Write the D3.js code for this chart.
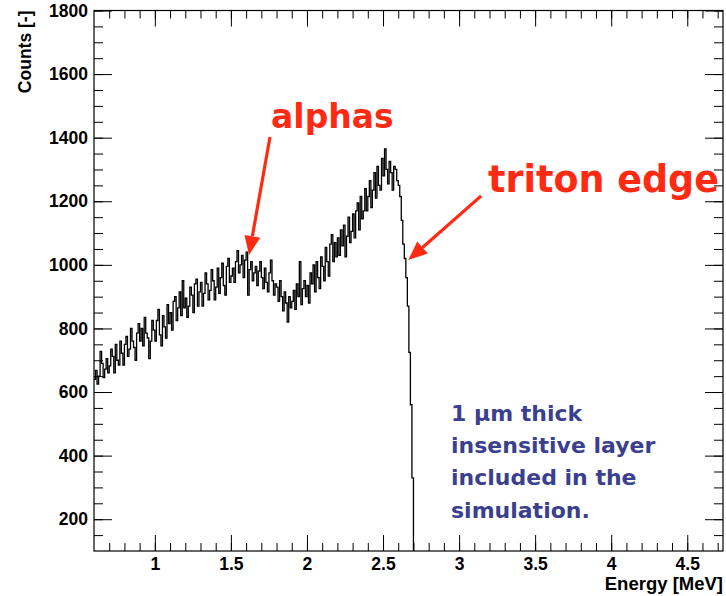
<!DOCTYPE html>
<html>
<head>
<meta charset="utf-8">
<script src="https://cdn.jsdelivr.net/npm/d3@7"></script>
<style>
  html, body { margin: 0; padding: 0; background: #fff; }
  svg { display: block; }
</style>
</head>
<body>
<svg id="chart" width="726" height="596"></svg>
<script>
// Histogram binning (MeV): bins of 0.01 starting at 0.60
const binStart = 0.60;
const binWidth = 0.01;

// Counts per bin, one row per 0.1 MeV
const counts = [
  640, 668, 625, 650, 728, 690, 645, 672, 705, 660,          // 0.60
  682, 735, 712, 660, 750, 700, 685, 760, 722, 685,          // 0.70
  750, 775, 712, 735, 800, 760, 740, 700, 785, 815,          // 0.80
  760, 800, 745, 835, 785, 770, 705, 760, 825, 795,          // 0.90
  760, 825, 860, 780, 745, 840, 805, 770, 875, 815,          // 1.00
  850, 795, 885, 900, 825, 865, 915, 840, 950, 865,          // 1.10
  895, 835, 870, 930, 905, 850, 940, 955, 870, 915,          // 1.20
  945, 870, 910, 975, 940, 890, 920, 985, 950, 890,          // 1.30
  930, 990, 910, 960, 1005, 935, 905, 995, 1020, 945,        // 1.40
  965, 990, 945, 1010, 1045, 975, 1000, 1030, 960, 1015,     // 1.50
  1040, 905, 985, 1010, 950, 975, 995, 935, 980, 1010,       // 1.60
  960, 925, 990, 945, 915, 975, 1015, 950, 905, 940,         // 1.70
  930, 885, 950, 900, 855, 915, 880, 820, 900, 865,          // 1.80
  885, 920, 860, 940, 900, 1010, 875, 925, 950, 900,         // 1.90
  935, 880, 975, 940, 1000, 915, 1010, 960, 925, 1025,       // 2.00
  995, 950, 1055, 1010, 965, 1065, 1095, 1010, 1070, 1025,   // 2.10
  1085, 1030, 1110, 1060, 1125, 1025, 1090, 1150, 1070, 1105,// 2.20
  1160, 1085, 1170, 1195, 1110, 1215, 1145, 1170, 1240, 1170,// 2.30
  1215, 1265, 1180, 1235, 1290, 1210, 1310, 1250, 1235, 1335,// 2.40
  1280, 1365, 1300, 1255, 1325, 1290, 1235, 1310, 1300, 1265,// 2.50
  1250, 1215, 1140, 1065, 1020, 960, 870, 725, 560, 330,     // 2.60
  0, 0, 0, 0, 0                                              // 2.70
];

// Axis ranges and ticks
const xDomain = [0.6, 4.735];
const yDomain = [100, 1800];
const xMajor = [1, 1.5, 2, 2.5, 3, 3.5, 4, 4.5];
const xMinor = d3.range(7, 48).map(d => d / 10);
const yMajor = [200, 400, 600, 800, 1000, 1200, 1400, 1600, 1800];
const yMinor = d3.range(150, 1801, 50);

// Annotations: [energy, counts] anchors
const alphasLabel = { text: "alphas", at: [1.764, 1432] };
const alphasArrow = { from: [1.757, 1402], to: [1.619, 1031] };
const tritonLabel = { text: "triton edge", at: [3.19, 1229] };
const tritonArrow = { from: [3.145, 1217], to: [2.666, 1015] };
const noteLines = ["1 \u00b5m thick", "insensitive layer", "included in the", "simulation."];
const noteAt = [2.947, 509];

const margin = { left: 94, top: 10.5, right: 3, bottom: 45 };
const W = 726, H = 596;
const svg = d3.select("#chart");

const x = d3.scaleLinear().domain(xDomain).range([margin.left, W - margin.right]);
const y = d3.scaleLinear().domain(yDomain).range([H - margin.bottom, margin.top]);

const tickFont = "'Liberation Sans', Arial, Helvetica, sans-serif";

// clip for the histogram
svg.append("defs").append("clipPath").attr("id", "plotClip")
  .append("rect")
  .attr("x", x.range()[0]).attr("y", y.range()[1])
  .attr("width", x.range()[1] - x.range()[0])
  .attr("height", y.range()[0] - y.range()[1]);

// histogram as a step line
const pts = [];
counts.forEach((c, i) => {
  const e0 = binStart + i * binWidth, e1 = e0 + binWidth;
  pts.push([e0, c], [e1, c]);
});
const line = d3.line().x(d => x(d[0])).y(d => y(d[1]));
svg.append("path")
  .attr("clip-path", "url(#plotClip)")
  .attr("d", line(pts))
  .attr("fill", "none")
  .attr("stroke", "#000")
  .attr("stroke-width", 1.3);

// axes with inward ticks on all four sides
function styleAxis(g) {
  g.select(".domain").remove();
  g.selectAll("line").attr("stroke", "#000").attr("stroke-width", 1);
  g.selectAll("text")
    .attr("font-family", tickFont)
    .attr("font-weight", "bold")
    .attr("font-size", "17.5px")
    .attr("fill", "#000");
}
const x0 = y.range()[0], yTop = y.range()[1];
const xl = x.range()[0], xr = x.range()[1];

svg.append("g").attr("transform", `translate(0,${x0})`)
  .call(d3.axisBottom(x).tickValues(xMinor).tickSize(-8).tickFormat(""))
  .call(styleAxis);
svg.append("g").attr("transform", `translate(0,${x0})`)
  .call(d3.axisBottom(x).tickValues(xMajor).tickSize(-16).tickPadding(7).tickFormat(d3.format("~g")))
  .call(styleAxis);
svg.append("g").attr("transform", `translate(0,${yTop})`)
  .call(d3.axisTop(x).tickValues(xMinor).tickSize(-8).tickFormat(""))
  .call(styleAxis);
svg.append("g").attr("transform", `translate(0,${yTop})`)
  .call(d3.axisTop(x).tickValues(xMajor).tickSize(-16).tickFormat(""))
  .call(styleAxis);

svg.append("g").attr("transform", `translate(${xl},0)`)
  .call(d3.axisLeft(y).tickValues(yMinor).tickSize(-9).tickFormat(""))
  .call(styleAxis);
svg.append("g").attr("transform", `translate(${xl},0)`)
  .call(d3.axisLeft(y).tickValues(yMajor).tickSize(-18).tickPadding(6).tickFormat(d3.format("d")))
  .call(styleAxis);
svg.append("g").attr("transform", `translate(${xr},0)`)
  .call(d3.axisRight(y).tickValues(yMinor).tickSize(-9).tickFormat(""))
  .call(styleAxis);
svg.append("g").attr("transform", `translate(${xr},0)`)
  .call(d3.axisRight(y).tickValues(yMajor).tickSize(-18).tickFormat(""))
  .call(styleAxis);

// frame
svg.append("rect")
  .attr("x", xl).attr("y", yTop)
  .attr("width", xr - xl).attr("height", x0 - yTop)
  .attr("fill", "none").attr("stroke", "#000").attr("stroke-width", 1.2);

// axis titles
svg.append("text")
  .attr("x", xr).attr("y", 590)
  .attr("text-anchor", "end")
  .attr("font-family", tickFont).attr("font-weight", "bold").attr("font-size", "18.5px")
  .text("Energy [MeV]");
svg.append("text")
  .attr("transform", `translate(31,${yTop}) rotate(-90)`)
  .attr("text-anchor", "end")
  .attr("font-family", tickFont).attr("font-weight", "bold").attr("font-size", "17.5px")
  .text("Counts [-]");

// annotations
const red = "#ff2a12";
const annoFont = "'DejaVu Sans', Verdana, sans-serif";

function arrow(a) {
  const x1 = x(a.from[0]), y1 = y(a.from[1]);
  const x2 = x(a.to[0]), y2 = y(a.to[1]);
  const ang = Math.atan2(y2 - y1, x2 - x1);
  const headLen = 19, headHalf = 8;
  const bx = x2 - headLen * Math.cos(ang), by = y2 - headLen * Math.sin(ang);
  svg.append("line")
    .attr("x1", x1).attr("y1", y1).attr("x2", bx).attr("y2", by)
    .attr("stroke", red).attr("stroke-width", 3.2);
  const px = -Math.sin(ang) * headHalf, py = Math.cos(ang) * headHalf;
  svg.append("path")
    .attr("d", `M${x2},${y2}L${bx + px},${by + py}L${bx - px},${by - py}Z`)
    .attr("fill", red);
}
arrow(alphasArrow);
arrow(tritonArrow);

svg.append("text")
  .attr("x", x(alphasLabel.at[0])).attr("y", y(alphasLabel.at[1]))
  .attr("font-family", annoFont).attr("font-weight", "bold").attr("font-size", "33px")
  .attr("fill", red)
  .text(alphasLabel.text);
svg.append("text")
  .attr("x", x(tritonLabel.at[0])).attr("y", y(tritonLabel.at[1]))
  .attr("font-family", annoFont).attr("font-weight", "bold").attr("font-size", "36.5px")
  .attr("fill", red)
  .text(tritonLabel.text);

const note = svg.append("text")
  .attr("font-family", annoFont).attr("font-weight", "bold").attr("font-size", "22px")
  .attr("fill", "#3a3f8f");
noteLines.forEach((t, i) => {
  note.append("tspan")
    .attr("x", x(noteAt[0]))
    .attr("y", y(noteAt[1]) + i * 32.2)
    .text(t);
});
</script>
</body>
</html>
